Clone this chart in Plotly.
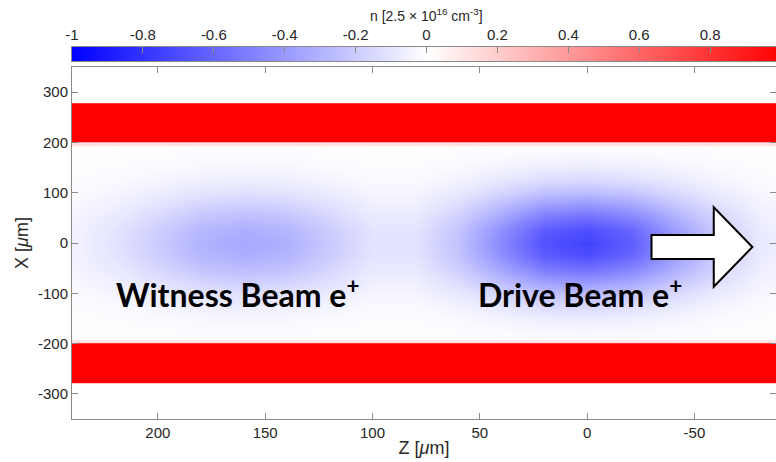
import plotly.graph_objects as go

# Longitudinal density on the beam axis (X = 0), in units of 2.5e16 cm^-3
Z_SAMPLES = [-100, -80, -60, -40, -20, 0, 20, 40, 60, 80, 100,
             120, 140, 160, 180, 200, 220, 240, 260]
ON_AXIS_DENSITY = [-0.04, -0.09, -0.22, -0.42, -0.64, -0.74, -0.68, -0.46, -0.24, -0.11, -0.11,
                   -0.21, -0.31, -0.34, -0.30, -0.20, -0.11, -0.05, -0.02]

# Relative transverse profile of the bunches
X_SAMPLES = [-200, -175, -150, -125, -100, -75, -50, -25, 0,
             25, 50, 75, 100, 125, 150, 175, 200]
TRANSVERSE_PROFILE = [0.0, 0.04, 0.10, 0.20, 0.36, 0.56, 0.77, 0.94, 1.0,
                      0.94, 0.77, 0.56, 0.36, 0.20, 0.10, 0.04, 0.0]

# Hollow plasma channel walls (bin edges in X, density per band)
WALL_Z_EDGES = [-100, 260]
WALL_X_EDGES = [-278, -200, -193, 193, 200, 278]
WALL_DENSITY = [1.0, 0.12, None, 0.12, 1.0]

# Colour scale strip
CBAR_LEVELS = [-1, 0, 1]
CBAR_TICKS = [-1, -0.8, -0.6, -0.4, -0.2, 0, 0.2, 0.4, 0.6, 0.8]
CBAR_TICKTEXT = ["-1", "-0.8", "-0.6", "-0.4", "-0.2", "0", "0.2", "0.4", "0.6", "0.8"]

Z_TICKS = [200, 150, 100, 50, 0, -50]
Z_TICKTEXT = ["200", "150", "100", "50", "0", "-50"]
X_TICKS = [300, 200, 100, 0, -100, -200, -300]
X_TICKTEXT = ["300", "200", "100", "0", "-100", "-200", "-300"]

BEAM_LABELS = ["Witness Beam e<sup>+</sup>", "Drive Beam e<sup>+</sup>"]
BEAM_LABEL_Z = [220.5, 52]
BEAM_LABEL_X = [-100, -100]

# Propagation arrow outline (Z, X)
ARROW_Z = [-30, -59, -59, -77, -59, -59, -30]
ARROW_X = [16, 16, 71, -8, -87, -32, -32]

AXIS_FONT = "Liberation Sans, Arial, Helvetica, sans-serif"
LINE_GREY = "#8a8a8a"
TEXT_COLOR = "#262626"
COLORSCALE = [[0, "rgb(0,0,255)"], [0.5, "rgb(255,255,255)"], [1, "rgb(255,0,0)"]]

beam_density = [[t * d for d in ON_AXIS_DENSITY] for t in TRANSVERSE_PROFILE]

fig = go.Figure()
fig.add_trace(go.Heatmap(
    x=Z_SAMPLES, y=X_SAMPLES, z=beam_density,
    coloraxis="coloraxis", zsmooth="best", hoverinfo="skip",
))
fig.add_trace(go.Heatmap(
    x=WALL_Z_EDGES, y=WALL_X_EDGES, z=[[v] for v in WALL_DENSITY],
    coloraxis="coloraxis", hoverinfo="skip",
))
# Colour bar drawn as its own strip axis with labels on top
fig.add_trace(go.Heatmap(
    x=CBAR_LEVELS, y=[0], z=[CBAR_LEVELS],
    coloraxis="coloraxis", zsmooth="best", hoverinfo="skip",
    xaxis="x2", yaxis="y2",
))

arrow_path = "M " + " L ".join(f"{z},{x}" for z, x in zip(ARROW_Z, ARROW_X)) + " Z"
fig.add_shape(type="path", path=arrow_path, xref="x", yref="y",
              fillcolor="white", line=dict(color="black", width=2))

for text, z, x in zip(BEAM_LABELS, BEAM_LABEL_Z, BEAM_LABEL_X):
    fig.add_annotation(x=z, y=x, xref="x", yref="y", text=text, showarrow=False,
                       xanchor="left", yanchor="middle",
                       font=dict(family="Lato, Open Sans, sans-serif", size=32,
                                 color="black", weight="bold"))

fig.add_annotation(
    text="n [2.5 × 10<sup>16</sup> cm<sup>-3</sup>]",
    xref="paper", yref="paper", x=0.503, y=1.085, showarrow=False,
    xanchor="center", yanchor="middle",
    font=dict(family=AXIS_FONT, size=14, color=TEXT_COLOR),
)

# Plot area: 72..776 px wide; channel view 67..419 px, colour strip 47..61 px
plot_h = 462 - 47 - 43
main_top = (419 - 67) / plot_h
strip_bottom = (419 - 61) / plot_h
strip_right = -1 + 2 * 704 / 709

fig.update_layout(
    width=776, height=462,
    margin=dict(l=72, r=0, t=47, b=43),
    paper_bgcolor="white", plot_bgcolor="white",
    font=dict(family=AXIS_FONT, size=15, color=TEXT_COLOR),
    showlegend=False,
    coloraxis=dict(cmin=-1, cmax=1, colorscale=COLORSCALE, showscale=False),
    xaxis=dict(
        range=[240, -88], showgrid=False, zeroline=False,
        showline=True, linecolor=LINE_GREY, linewidth=1, mirror="ticks",
        ticks="inside", ticklen=6, tickcolor=LINE_GREY,
        tickvals=Z_TICKS, ticktext=Z_TICKTEXT,
        tickfont=dict(family=AXIS_FONT, size=15, color=TEXT_COLOR),
        title=dict(text="Z [<i>μ</i>m]", standoff=1,
                   font=dict(family=AXIS_FONT, size=18, color=TEXT_COLOR)),
    ),
    yaxis=dict(
        domain=[0, main_top],
        range=[-350, 350], showgrid=False, zeroline=False,
        showline=True, linecolor=LINE_GREY, linewidth=1, mirror="ticks",
        ticks="inside", ticklen=6, tickcolor=LINE_GREY,
        tickvals=X_TICKS, ticktext=X_TICKTEXT,
        tickfont=dict(family=AXIS_FONT, size=15, color=TEXT_COLOR),
        title=dict(text="X [<i>μ</i>m]", standoff=4,
                   font=dict(family=AXIS_FONT, size=18, color=TEXT_COLOR)),
    ),
    xaxis2=dict(
        anchor="y2", side="top",
        range=[-1, strip_right], showgrid=False, zeroline=False,
        showline=True, linecolor=LINE_GREY, linewidth=1, mirror=True,
        ticks="inside", ticklen=6, tickcolor=LINE_GREY,
        tickvals=CBAR_TICKS, ticktext=CBAR_TICKTEXT,
        tickfont=dict(family=AXIS_FONT, size=15, color=TEXT_COLOR),
    ),
    yaxis2=dict(
        anchor="x2", domain=[strip_bottom, 1],
        range=[-0.5, 0.5], showgrid=False, zeroline=False,
        showline=True, linecolor=LINE_GREY, linewidth=1, mirror=True,
        showticklabels=False, ticks="",
    ),
)

fig.write_html("out.html")
